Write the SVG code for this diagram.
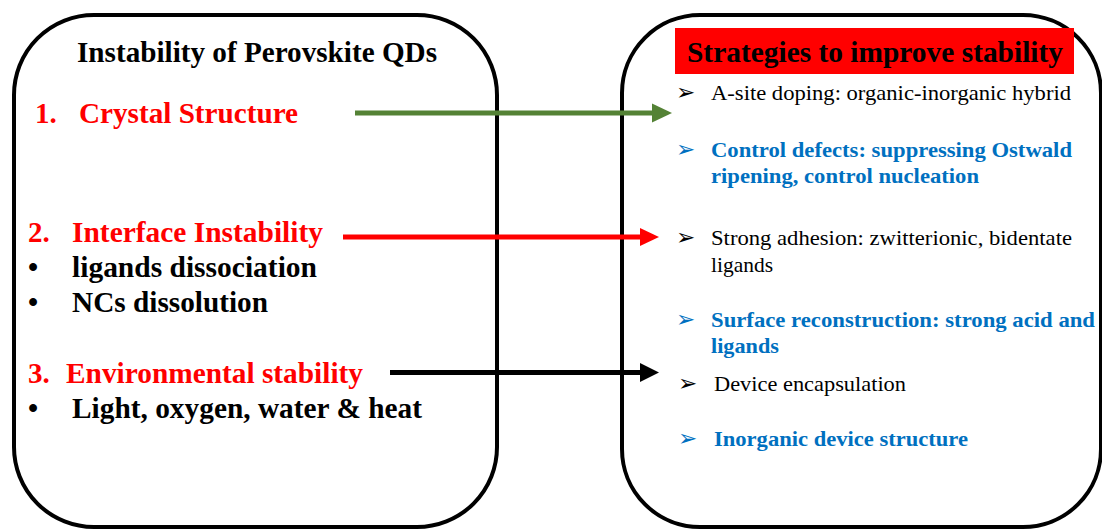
<svg xmlns="http://www.w3.org/2000/svg" width="1102" height="529" viewBox="0 0 1102 529">
  <style>
    .box { fill: #ffffff; stroke: #000000; stroke-width: 4; }
    .lt { font-weight: bold; font-size: 29px; }
    .red { fill: #ff0000; }
    .blk { fill: #000000; }
    .rt { font-size: 22px; fill: #000000; }
    .bt { font-size: 22px; font-weight: bold; fill: #0070C0; }
    .arw { font-size: 23px; }
    .conn { fill: none; stroke-width: 5; }
  </style>
  <defs>
    <marker id="hg" markerUnits="userSpaceOnUse" markerWidth="20" markerHeight="20" refX="0" refY="9.5" orient="auto" overflow="visible">
      <path d="M0,0 L20,9.5 L0,19 z" fill="#548235"/>
    </marker>
    <marker id="hr" markerUnits="userSpaceOnUse" markerWidth="20" markerHeight="20" refX="0" refY="9" orient="auto" overflow="visible">
      <path d="M0,0 L19,9 L0,18 z" fill="#ff0000"/>
    </marker>
    <marker id="hk" markerUnits="userSpaceOnUse" markerWidth="20" markerHeight="20" refX="0" refY="9.5" orient="auto" overflow="visible">
      <path d="M0,0 L19,9.5 L0,19 z" fill="#000000"/>
    </marker>
  </defs>
  <rect width="1102" height="529" fill="#ffffff"/>

  <g id="instability" font-family="'Liberation Serif', 'Times New Roman', serif">
    <rect class="box" x="14" y="15" width="483" height="512" rx="80" ry="80"/>
    <text class="lt blk" x="77" y="62" textLength="360" lengthAdjust="spacingAndGlyphs">Instability of Perovskite QDs</text>
    <text class="lt red" x="35" y="123">1.</text>
    <text class="lt red" x="79" y="123" textLength="219" lengthAdjust="spacingAndGlyphs">Crystal Structure</text>
    <text class="lt red" x="28" y="242">2.</text>
    <text class="lt red" x="72" y="242" textLength="251" lengthAdjust="spacingAndGlyphs">Interface Instability</text>
    <text class="lt blk" x="28" y="277">•</text>
    <text class="lt blk" x="72" y="277" textLength="245" lengthAdjust="spacingAndGlyphs">ligands dissociation</text>
    <text class="lt blk" x="28" y="312">•</text>
    <text class="lt blk" x="72" y="312" textLength="196" lengthAdjust="spacingAndGlyphs">NCs dissolution</text>
    <text class="lt red" x="28" y="383">3.</text>
    <text class="lt red" x="66" y="383" textLength="297" lengthAdjust="spacingAndGlyphs">Environmental stability</text>
    <text class="lt blk" x="28" y="418">•</text>
    <text class="lt blk" x="72" y="418" textLength="350" lengthAdjust="spacingAndGlyphs">Light, oxygen, water &amp; heat</text>
  </g>

  <g id="strategies" font-family="'Liberation Serif', 'Times New Roman', serif">
    <rect class="box" x="622" y="15" width="479" height="512" rx="78" ry="78"/>
    <rect x="675" y="28" width="399" height="46" fill="#ff0000"/>
    <text class="lt blk" x="687" y="62" textLength="376" lengthAdjust="spacingAndGlyphs">Strategies to improve stability</text>

    <text class="rt" x="711" y="100" textLength="360" lengthAdjust="spacingAndGlyphs">A-site doping: organic-inorganic hybrid</text>
    <text class="bt" x="711" y="157" textLength="361" lengthAdjust="spacingAndGlyphs">Control defects: suppressing Ostwald</text>
    <text class="bt" x="711" y="183" textLength="268" lengthAdjust="spacingAndGlyphs">ripening, control nucleation</text>
    <text class="rt" x="711" y="245" textLength="361" lengthAdjust="spacingAndGlyphs">Strong adhesion: zwitterionic, bidentate</text>
    <text class="rt" x="711" y="272" textLength="62" lengthAdjust="spacingAndGlyphs">ligands</text>
    <text class="bt" x="711" y="327" textLength="384" lengthAdjust="spacingAndGlyphs">Surface reconstruction: strong acid and</text>
    <text class="bt" x="711" y="353" textLength="68" lengthAdjust="spacingAndGlyphs">ligands</text>
    <text class="rt" x="714" y="391" textLength="192" lengthAdjust="spacingAndGlyphs">Device encapsulation</text>
    <text class="bt" x="714" y="446" textLength="254" lengthAdjust="spacingAndGlyphs">Inorganic device structure</text>

    <g font-family="'DejaVu Sans', sans-serif">
      <text class="arw blk" x="676" y="100">➢</text>
      <text class="arw" x="676" y="157" fill="#0070C0">➢</text>
      <text class="arw blk" x="676" y="245">➢</text>
      <text class="arw" x="676" y="327" fill="#0070C0">➢</text>
      <text class="arw blk" x="678" y="391">➢</text>
      <text class="arw" x="678" y="446" fill="#0070C0">➢</text>
    </g>
  </g>

  <g id="connectors">
    <line class="conn" x1="355" y1="113" x2="652" y2="113" stroke="#548235" marker-end="url(#hg)"/>
    <line class="conn" x1="343" y1="237" x2="640" y2="237" stroke="#ff0000" stroke-width="4.5" marker-end="url(#hr)"/>
    <line class="conn" x1="390" y1="372.5" x2="640" y2="372.5" stroke="#000000" marker-end="url(#hk)"/>
  </g>
</svg>
